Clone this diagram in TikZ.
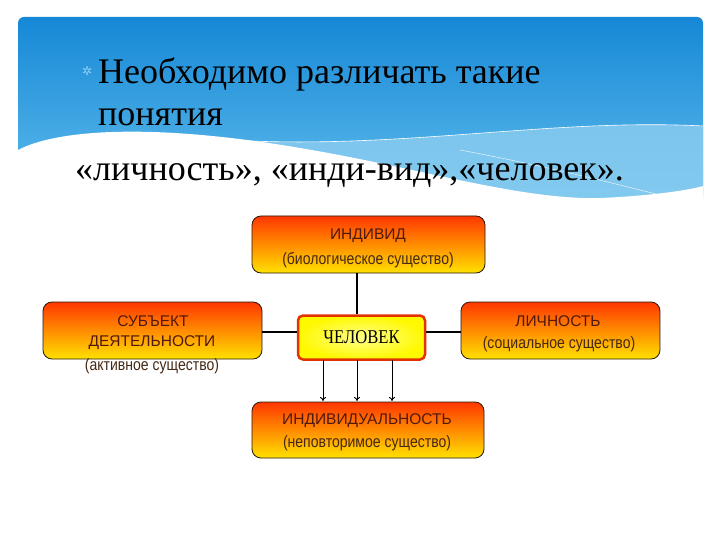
\documentclass[tikz,border=0pt]{standalone}
\usepackage{fontspec}
\usetikzlibrary{arrows.meta}
\setmainfont{Liberation Serif}
\newfontfamily\boxfont{Liberation Sans}
\newfontfamily\parfont[FakeStretch=0.85]{Liberation Sans}
\newfontfamily\boxserif[FakeStretch=0.85]{Liberation Serif}
\newfontfamily\symfont{DejaVu Sans}
\definecolor{hdtop}{RGB}{22,136,214}
\definecolor{hdbot}{RGB}{95,188,236}
\definecolor{band}{RGB}{140,205,240}
\definecolor{otop}{RGB}{255,55,0}
\definecolor{omid}{RGB}{255,140,0}
\definecolor{obot}{RGB}{255,225,0}
\definecolor{otext}{RGB}{80,25,15}
\definecolor{ptext}{RGB}{70,40,20}
\definecolor{redline}{RGB}{225,50,0}
\begin{document}
\begin{tikzpicture}[x=1pt,y=-1pt,
  obox/.style={draw=black!80!brown, line width=0.8pt, rounded corners=9pt,
    top color=otop, bottom color=obot, middle color=omid},
  captext/.style={text=otext, font=\boxfont\fontsize{15.5}{17}\selectfont},
  partext/.style={text=ptext, font=\parfont\fontsize{16.5}{18}\selectfont},
  titletext/.style={anchor=base west, inner sep=0, font=\fontsize{36}{36}\selectfont},
  linkline/.style={draw=black, line width=1.1pt},
  arrline/.style={draw=black, line width=0.9pt, -{To[length=4pt,width=6pt]}}]
\useasboundingbox (0,0) rectangle (720,540);
\fill[white] (0,0) rectangle (720,540);
% header
\shade[top color=hdtop, bottom color=hdbot, rounded corners=6pt]
  (18,200) -- (18,17) -- (703,17) -- (703,200) -- cycle;
\fill[band, opacity=0.8] (230,140) .. controls (400,150) and (550,118) .. (703,126)
  -- (703,200) -- (230,200) -- cycle;
\draw[white, line width=0.6pt] (230,140) .. controls (400,150) and (550,118) .. (703,126);
\draw[white, line width=0.5pt, opacity=0.8] (460,150) .. controls (540,165) and (600,180) .. (660,195);
\fill[white] (18,150) .. controls (60,128) and (160,124) .. (300,148)
  .. controls (420,168) and (520,200) .. (600,198)
  .. controls (650,196) and (690,190) .. (703,186) -- (703,215) -- (18,215) -- cycle;
% title text
\node[anchor=base west, inner sep=0, text=hdbot!70!white, font=\symfont\fontsize{12}{12}\selectfont] (bul) at (82,76) {✲};
\node[titletext] (t1) at (98,84) {Необходимо различать такие};
\node[titletext] (t2) at (98,126) {понятия};
\node[titletext] (t3) at (75,181) {«личность», «инди-вид»,«человек».};
% boxes
\path[obox] (252,216) rectangle (485,273);
\node[captext] (ind) at (368,236) {ИНДИВИД};
\node[partext] (indp) at (368,260) {(биологическое существо)};
\coordinate (indB) at (357,273);

\path[obox] (43,302) rectangle (262,359);
\node[captext] (sub) at (153,321) {СУБЪЕКТ};
\node[captext] (subd) at (152,343) {ДЕЯТЕЛЬНОСТИ};
\node[partext] (subp) at (152,366) {(активное существо)};
\coordinate (subR) at (262,332);

\path[obox] (461,302) rectangle (660,359);
\node[captext] (lic) at (558,321) {ЛИЧНОСТЬ};
\node[partext] (licp) at (559,344) {(социальное существо)};
\coordinate (licL) at (461,332);

\path[obox] (252,402) rectangle (484,458);
\node[captext] (indiv) at (367,421) {ИНДИВИДУАЛЬНОСТЬ};
\node[partext] (indivp) at (367,443) {(неповторимое существо)};

\node[draw=redline, line width=2.5pt, rounded corners=5pt,
  inner color=yellow!45!white, outer color=yellow!95!orange,
  minimum width=127pt, minimum height=44pt,
  text=black, font=\boxserif\fontsize{19.5}{20}\selectfont] (hum) at (361.5,337.5) {ЧЕЛОВЕК};
% links
\draw[linkline] (indB) -- (indB |- hum.north);
\draw[linkline] (subR) -- (subR -| hum.west);
\draw[linkline] (licL) -- (licL -| hum.east);
\foreach \x/\n in {323/a,357/b,392/c}{
  \coordinate (s\n) at (\x,360);
  \coordinate (e\n) at (\x,401);
  \draw[arrline] (s\n) -- (e\n);
}
\end{tikzpicture}
\end{document}
